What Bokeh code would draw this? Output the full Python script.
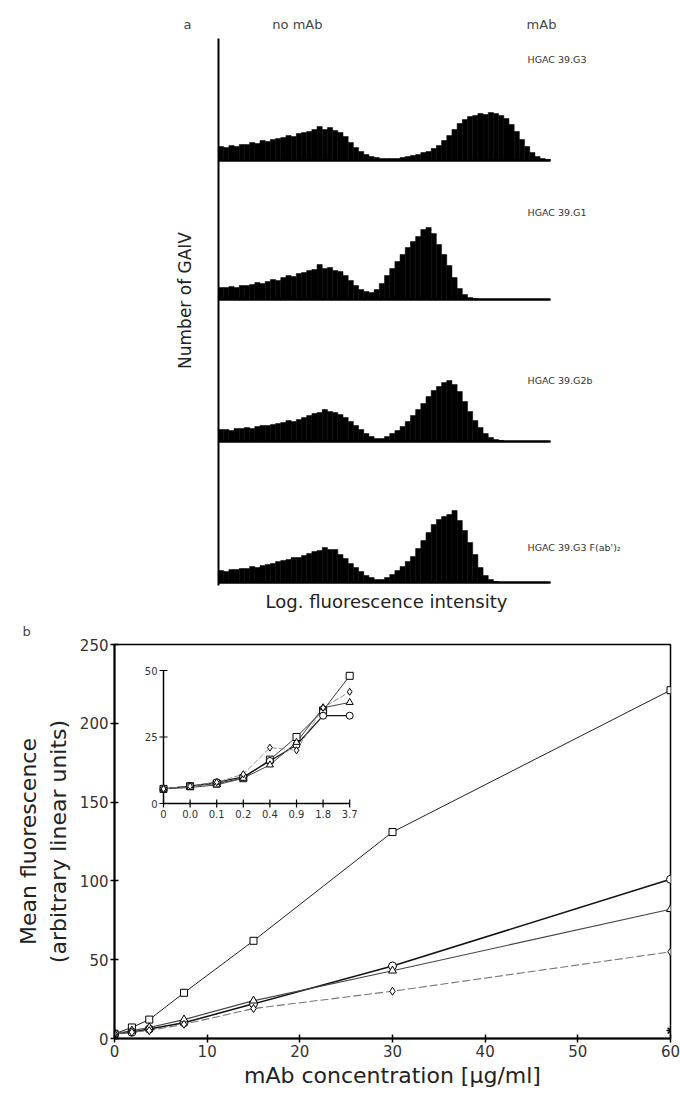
import math
from bokeh.plotting import figure
from bokeh.layouts import column
from bokeh.models import Range1d, FixedTicker
from bokeh.core.properties import value
from bokeh.embed import file_html
from bokeh.resources import INLINE

FONT = "DejaVu Sans"

# ---------------- panel a : flow cytometry histograms ----------------
hist_names = ["HGAC 39.G3", "HGAC 39.G1", "HGAC 39.G2b", "HGAC 39.G3 F(ab')\u2082"]
hist_g3 = [14, 13, 15, 14, 16, 16, 18, 17, 20, 19,
           21, 22, 23, 25, 24, 27, 28, 29, 31, 34,
           31, 33, 30, 28, 24, 18, 13, 9, 6, 4,
           3, 2, 2, 2, 2, 3, 4, 5, 6, 8,
           9, 12, 15, 20, 25, 31, 37, 41, 44, 45,
           47, 46, 48, 47, 45, 42, 36, 29, 21, 14,
           8, 4, 2, 1]
hist_g1 = [12, 12, 13, 12, 14, 14, 15, 17, 16, 18,
           20, 19, 22, 24, 23, 26, 27, 29, 30, 35,
           31, 32, 29, 28, 24, 19, 14, 10, 8, 7,
           10, 16, 24, 31, 38, 45, 52, 58, 63, 70,
           72, 66, 55, 45, 34, 22, 11, 5, 2, 1,
           0, 0, 0, 0, 0, 0, 0, 0, 0, 0,
           0, 0, 0, 0]
hist_g2b = [12, 12, 11, 13, 13, 14, 13, 15, 16, 16,
            17, 18, 19, 21, 20, 22, 24, 26, 28, 29,
            32, 30, 29, 27, 24, 20, 16, 12, 8, 5,
            3, 3, 5, 8, 11, 15, 20, 26, 32, 38,
            45, 51, 55, 59, 61, 57, 50, 40, 30, 21,
            14, 8, 4, 2, 1, 0, 0, 0, 0, 0,
            0, 0, 0, 0]
hist_fab = [12, 11, 13, 13, 14, 14, 16, 15, 17, 18,
            19, 21, 22, 23, 25, 25, 27, 29, 31, 32,
            35, 33, 33, 28, 24, 19, 15, 11, 7, 5,
            3, 3, 5, 8, 12, 16, 21, 26, 34, 42,
            50, 58, 63, 66, 68, 72, 62, 52, 40, 28,
            15, 7, 3, 1, 0, 0, 0, 0, 0, 0,
            0, 0, 0, 0]
hists = [hist_g3, hist_g1, hist_g2b, hist_fab]
BIN_CH = 4          # channels per histogram bin
N_CH = 256          # channels on the log scale

# ---------------- panel b : dose response ----------------
conc = [0, 1.875, 3.75, 7.5, 15, 30, 60]
fl_square = [3, 7, 12, 29, 62, 131, 221]
fl_circle = [3, 4, 6, 10, 22, 46, 101]
fl_triangle = [3, 5, 7, 12, 24, 43, 82]
fl_diamond = [3, 4, 5, 9, 19, 30, 55]
ctrl_conc = [60]
ctrl_fl = [5]
x_ticks = [0, 10, 20, 30, 40, 50, 60]
y_ticks = [0, 50, 100, 150, 200, 250]

# inset (equally spaced categories)
inset_labels = ["0", "0.0", "0.1", "0.2", "0.4", "0.9", "1.8", "3.7"]
inset_square = [5.5, 6.5, 7.5, 9.5, 16.5, 25, 35, 48]
inset_circle = [5.5, 6.5, 8, 10, 16, 22, 33, 33]
inset_triangle = [5.5, 6, 7, 9.5, 14.5, 23, 36, 38]
inset_diamond = [5.5, 6.5, 8, 11, 21, 20, 36, 42]
inset_y_ticks = [0, 25, 50]

# ================= layout constants (pixels) =================
W = 680
HA = 612
HB = 1095 - HA
FR_L, FR_R, FR_T, FR_B = 114, 670, 644, 1038   # panel b frame
AX_PX = 218               # x pixel of panel-a axis
END_PX = 550              # x pixel of channel N_CH
PPC = (END_PX - AX_PX) / N_CH
panel_base_px = [160, 299, 441, 582]
label_px = [(527, 59), (527, 212), (527, 380), (527, 547)]


def ch(px):
    return (px - AX_PX) / PPC


# panel a shares the same left/right borders as panel b (column aligns frames)
pa = figure(width=W, height=HA, x_range=Range1d(ch(FR_L), ch(FR_R)), y_range=Range1d(HA, 0),
            x_axis_type=None, y_axis_type=None, toolbar_location=None,
            output_backend="svg", min_border_left=FR_L, min_border_right=W - FR_R,
            min_border_top=0, min_border_bottom=0, outline_line_color=None)
pa.grid.visible = False

for k, h in enumerate(hists):
    base = panel_base_px[k]
    left = [i * BIN_CH for i in range(len(h))]
    right = [(i + 1) * BIN_CH for i in range(len(h))]
    top = [base - v for v in h]
    bottom = [base] * len(h)
    pa.quad(left=left, right=right, top=top, bottom=bottom,
            fill_color="black", line_color="black", line_width=0.5)
    pa.segment(x0=[0], y0=[base], x1=[N_CH], y1=[base], line_color="black", line_width=2.5)

pa.segment(x0=[0], y0=[38], x1=[0], y1=[585], line_color="black", line_width=2)

pa.text(x=[ch(lx) for lx, _ in label_px], y=[ly for _, ly in label_px], text=hist_names,
        text_font=value(FONT), text_font_size="9.5px", text_align="left",
        text_baseline="middle", text_color="#333")
pa.text(x=[ch(187), ch(299), ch(541)], y=[24, 24, 24], text=["a", "no  mAb", "mAb"],
        text_font=value(FONT), text_font_size="13px", text_align="center",
        text_baseline="middle", text_color="#444")
pa.text(x=[ch(184)], y=[300], text=["Number of GAIV"], angle=math.pi / 2,
        text_font=value(FONT), text_font_size="17px", text_align="center",
        text_baseline="middle", text_color="#222")
pa.text(x=[ch(386)], y=[601], text=["Log. fluorescence intensity"],
        text_font=value(FONT), text_font_size="18px", text_align="center",
        text_baseline="middle", text_color="#222")

# ---------------- panel b figure ----------------
pb = figure(width=W, height=HB, x_range=Range1d(x_ticks[0], x_ticks[-1]),
            y_range=Range1d(y_ticks[0], y_ticks[-1]), toolbar_location=None,
            output_backend="svg", min_border_left=FR_L, min_border_right=W - FR_R,
            min_border_top=FR_T - HA, min_border_bottom=1095 - FR_B, title="b")
pb.title.align = "left"
pb.title.offset = 22 - FR_L
pb.title.text_font = FONT
pb.title.text_font_size = "13px"
pb.title.text_font_style = "normal"
pb.title.text_color = "#444"
pb.title.standoff = 12
pb.grid.visible = False
pb.outline_line_color = "black"
pb.outline_line_width = 1.5
pb.xaxis.ticker = FixedTicker(ticks=x_ticks)
pb.yaxis.ticker = FixedTicker(ticks=y_ticks)
for ax in (pb.xaxis[0], pb.yaxis[0]):
    ax.axis_line_width = 2
    ax.major_tick_in = 4
    ax.major_tick_out = 4
    ax.major_tick_line_width = 1.5
    ax.minor_tick_line_color = None
    ax.major_label_text_font = FONT
    ax.major_label_text_font_size = "15px"
    ax.major_label_text_color = "#333"
    ax.axis_label_text_font = FONT
    ax.axis_label_text_font_style = "normal"
    ax.axis_label_text_font_size = "22px"
    ax.axis_label_text_color = "#222"
    ax.major_label_standoff = 2
pb.xaxis.axis_label = "mAb concentration [\u03bcg/ml]"
pb.yaxis.axis_label = "Mean fluorescence\n(arbitrary linear units)"
pb.xaxis.axis_label_standoff = 3
pb.yaxis.axis_label_standoff = 6

styles = [
    (fl_square, "square", "#222", 1.0, "solid"),
    (fl_circle, "circle", "#111", 1.5, "solid"),
    (fl_triangle, "triangle", "#444", 1.2, "solid"),
    (fl_diamond, "diamond", "#777", 1.1, "8 3"),
]
for ys, mk, col, lw, dash in styles:
    pb.line(conc, ys, line_color=col, line_width=lw, line_dash=dash)
for ys, mk, col, lw, dash in styles:
    pb.scatter(conc, ys, marker=mk, size=8 if mk != "square" else 7,
               fill_color="white", line_color="black", line_width=1)
pb.scatter(ctrl_conc, ctrl_fl, marker="asterisk", size=8, line_color="black", line_width=1.5)

# ---------------- inset via extra ranges ----------------
IN_X0, IN_Y0, IN_DX, IN_DY = 163, 803, 26.6, 2.66
pb.extra_x_ranges = {"ix": Range1d(-(IN_X0 - FR_L) / IN_DX, (FR_R - IN_X0) / IN_DX)}
pb.extra_y_ranges = {"iy": Range1d(-(FR_B - IN_Y0) / IN_DY, (IN_Y0 - FR_T) / IN_DY)}
n = len(inset_labels)
idx = list(range(n))
kw = dict(x_range_name="ix", y_range_name="iy")
pb.segment(x0=[0], y0=[inset_y_ticks[0]], x1=[0], y1=[inset_y_ticks[-1]],
           line_color="black", line_width=1.5, **kw)
pb.segment(x0=[0], y0=[0], x1=[n - 1], y1=[0], line_color="black", line_width=1.5, **kw)
pb.scatter(idx, [0] * n, marker="dash", angle=math.pi / 2, size=8,
           line_color="black", line_width=1.2, **kw)
pb.scatter([0] * len(inset_y_ticks), inset_y_ticks, marker="dash", size=8,
           line_color="black", line_width=1.2, **kw)
pb.text(x=idx, y=[0] * n, text=inset_labels, y_offset=6, text_align="center",
        text_baseline="top", text_font=value(FONT), text_font_size="10px",
        text_color="#333", **kw)
pb.text(x=[0] * len(inset_y_ticks), y=inset_y_ticks, text=[str(t) for t in inset_y_ticks],
        x_offset=-6, text_align="right", text_baseline="middle",
        text_font=value(FONT), text_font_size="10px", text_color="#333", **kw)
inset_styles = [
    (inset_square, "square", "#222", 0.9, "solid"),
    (inset_circle, "circle", "#111", 1.2, "solid"),
    (inset_triangle, "triangle", "#444", 1.0, "solid"),
    (inset_diamond, "diamond", "#888", 0.9, "6 2"),
]
for ys, mk, col, lw, dash in inset_styles:
    pb.line(idx, ys, line_color=col, line_width=lw, line_dash=dash, **kw)
for ys, mk, col, lw, dash in inset_styles:
    pb.scatter(idx, ys, marker=mk, size=7, fill_color="white", line_color="black",
               line_width=1, **kw)

p = column(pa, pb, spacing=0)
open("out.html", "w").write(file_html(p, INLINE))
